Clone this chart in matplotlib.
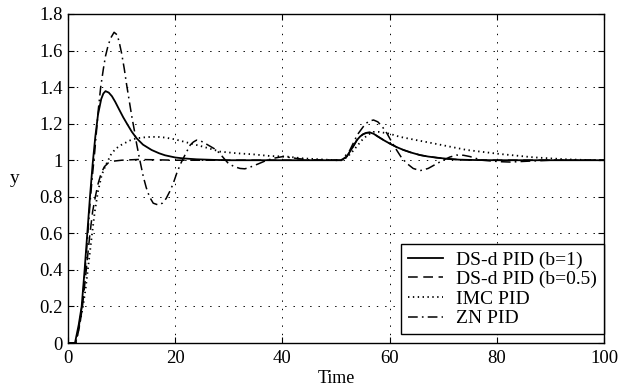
import numpy as np
import matplotlib
matplotlib.use("Agg")
import matplotlib.pyplot as plt
from matplotlib.ticker import FixedLocator, FixedFormatter

plt.rcParams['font.family'] = ['Liberation Serif', 'DejaVu Serif']
plt.rcParams['lines.scale_dashes'] = False

# values
t_b1 = [0, 1.3, 2.0, 2.55, 3.1, 3.6, 4.1, 4.6, 5.1, 5.6, 6.2, 6.6, 7.0, 7.6, 8.2, 8.8,
        9.5, 10.3, 11.1, 11.9, 12.8, 14.0, 15.6, 17.0, 18.1, 20.0, 21.5, 24, 27, 30, 40,
        50, 51, 52, 52.6, 53.3, 53.9, 54.5, 55.1, 55.7, 56.3, 57.0, 57.9, 59.0, 60.1,
        61.3, 62.6, 64.0, 65.7, 67.2, 68.8, 71, 73, 76, 80, 90, 100]
y_b1 = [0, 0, 0.1, 0.2, 0.4, 0.6, 0.8, 0.98, 1.13, 1.25, 1.335, 1.365, 1.378, 1.37, 1.35,
        1.32, 1.28, 1.235, 1.195, 1.156, 1.12, 1.085, 1.056, 1.038, 1.027, 1.015, 1.01,
        1.005, 1.002, 1.0, 1.0, 1.0, 1.0, 1.02, 1.047, 1.08, 1.11, 1.13, 1.143, 1.15,
        1.152, 1.145, 1.128, 1.108, 1.09, 1.072, 1.056, 1.042, 1.028, 1.02, 1.014, 1.007,
        1.003, 1.001, 1.0, 1.0, 1.0]

t_b05 = [0, 1.5, 2.2, 2.7, 3.4, 4.1, 4.6, 5.1, 5.6, 6.2, 6.8, 7.5, 8.5, 10, 13, 17, 20,
         30, 40, 50, 51, 52, 52.6, 53.3, 53.9, 54.5, 55.1, 55.7, 56.3, 57.0, 57.9, 59.0,
         60.1, 61.3, 62.6, 64.0, 65.7, 67.2, 68.8, 71, 73, 76, 80, 90, 100]
y_b05 = [0, 0, 0.1, 0.2, 0.4, 0.6, 0.72, 0.8, 0.87, 0.93, 0.965, 0.985, 0.995, 1.0, 1.004,
         1.002, 1.0, 1.0, 1.0, 1.0, 1.0, 1.02, 1.047, 1.08, 1.11, 1.13, 1.143, 1.15, 1.152,
         1.145, 1.128, 1.108, 1.09, 1.072, 1.056, 1.042, 1.028, 1.02, 1.014, 1.007, 1.003,
         1.001, 1.0, 1.0, 1.0]

t_imc = [0, 1.4, 2.0, 2.8, 3.3, 3.7, 4.1, 4.5, 5.0, 5.6, 6.3, 7.0, 8.0, 8.8, 9.7, 10.6,
         11.7, 12.8, 14.2, 15.6, 17, 18.1, 20, 21.8, 23.5, 25.2, 28.4, 31.5, 34.6, 37.7,
         40.8, 43.9, 47, 50, 51, 52, 53, 54, 55, 56, 57, 58, 60, 61.9, 65, 68.2, 71.3,
         74.4, 77.5, 80.6, 83.7, 86.8, 90, 93, 96, 100]
y_imc = [0, 0, 0.08, 0.2, 0.3, 0.4, 0.5, 0.6, 0.72, 0.83, 0.92, 0.97, 1.03, 1.06, 1.08,
         1.094, 1.11, 1.12, 1.125, 1.128, 1.127, 1.124, 1.114, 1.10, 1.087, 1.074, 1.047,
         1.038, 1.032, 1.023, 1.02, 1.01, 1.005, 1.0, 1.0, 1.015, 1.045, 1.08, 1.115, 1.14,
         1.155, 1.155, 1.145, 1.128, 1.11, 1.092, 1.074, 1.056, 1.045, 1.034, 1.025, 1.016,
         1.01, 1.005, 1.002, 1.0]

t_zn = [0, 1.4, 2.0, 2.6, 3.2, 3.7, 4.2, 4.6, 5.0, 5.65, 6.1, 6.6, 7.0, 7.5, 8.0, 8.6, 9.2,
        9.6, 10.0, 10.5, 10.9, 11.4, 11.9, 12.4, 12.8, 13.4, 14.05, 14.6, 15.2, 15.9, 16.85,
        17.6, 18.3, 19.0, 19.6, 20.3, 21.0, 21.5, 22.2, 22.8, 23.4, 24.0, 24.8, 25.6, 26.6,
        27.7, 28.8, 29.9, 31.0, 32.1, 33.0, 33.8, 35.5, 37.1, 38.6, 40.1, 42.6, 45, 50, 51,
        52.5, 54.0, 55.5, 56.3, 57.0, 57.8, 58.6, 59.5, 60.4, 61.3, 62.2, 63.2, 64.4, 65.7,
        67.2, 68.6, 70, 71.2, 72.5, 73.8, 75, 77.2, 80.6, 82.5, 86, 90, 100]
y_zn = [0, 0, 0.08, 0.2, 0.4, 0.6, 0.8, 0.93, 1.05, 1.275, 1.40, 1.50, 1.57, 1.63, 1.67,
        1.70, 1.685, 1.64, 1.585, 1.50, 1.42, 1.33, 1.24, 1.16, 1.09, 1.0, 0.91, 0.85, 0.80,
        0.765, 0.755, 0.765, 0.79, 0.83, 0.87, 0.93, 0.98, 1.01, 1.05, 1.083, 1.10, 1.11,
        1.105, 1.092, 1.075, 1.056, 1.02, 0.983, 0.965, 0.955, 0.953, 0.96, 0.98, 1.0, 1.012,
        1.02, 1.01, 1.002, 1.0, 1.0, 1.05, 1.14, 1.2, 1.215, 1.22, 1.21, 1.185, 1.147, 1.10,
        1.056, 1.015, 0.983, 0.955, 0.943, 0.955, 0.978, 1.0, 1.017, 1.028, 1.027, 1.02, 1.0,
        0.992, 0.99, 0.995, 1.0, 1.0]

labels = ['DS-d PID (b=1)', 'DS-d PID (b=0.5)', 'IMC PID', 'ZN PID']
xticks = [0, 20, 40, 60, 80, 100]
yticks = [0, 0.2, 0.4, 0.6, 0.8, 1.0, 1.2, 1.4, 1.6, 1.8]
ytick_labels = ['0', '0.2', '0.4', '0.6', '0.8', '1', '1.2', '1.4', '1.6', '1.8']

fig = plt.figure(figsize=(6.21, 3.9), dpi=100)
ax = fig.add_axes([68 / 621, 1 - 343 / 390, 536 / 621, 329 / 390])

ax.plot(t_b1, y_b1, color='black', lw=1.3, ls='-', label=labels[0])
ax.plot(t_b05, y_b05, color='black', lw=1.1, ls=(0, (7, 4)), label=labels[1])
ax.plot(t_imc, y_imc, color='black', lw=1.3, ls=(0, (1, 2.5)), label=labels[2])
ax.plot(t_zn, y_zn, color='black', lw=1.1, ls=(0, (7, 3, 1.2, 3)), label=labels[3])

ax.set_xlim(0, 100)
ax.set_ylim(0, 1.8)
ax.xaxis.set_major_locator(FixedLocator(xticks))
ax.yaxis.set_major_locator(FixedLocator(yticks))
ax.yaxis.set_major_formatter(FixedFormatter(ytick_labels))
ax.tick_params(direction='in', top=True, right=True, length=4, width=0.8,
               labelsize=13.5, colors='black')
ax.tick_params(axis='x', pad=5)
ax.tick_params(axis='y', pad=4)
for s in ax.spines.values():
    s.set_linewidth(1.0)

ax.grid(True, color='black', lw=0.7, ls=(0, (1, 5)))

ax.set_xlabel('Time', fontsize=13, va='center')
ax.xaxis.set_label_coords(0.5, -0.108)
ax.set_ylabel('y', fontsize=14, rotation=0, va='center', ha='center')
ax.yaxis.set_label_coords(-0.1, 0.5)

leg = ax.legend(loc='lower right', bbox_to_anchor=(1.0, 0.027), borderaxespad=0,
                fontsize=14, handlelength=1.8, handletextpad=0.7, labelspacing=0.1,
                borderpad=0.35, fancybox=False, framealpha=1, edgecolor='black')
leg.get_frame().set_linewidth(1.0)

fig.savefig('out.png', dpi=100)
